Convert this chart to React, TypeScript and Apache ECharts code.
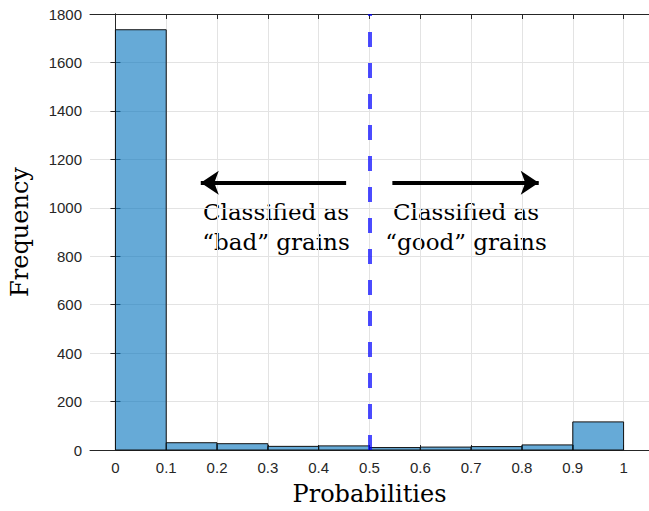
import React, { useEffect, useRef } from "react";
import * as echarts from "echarts";

const binEdges = [0, 0.1, 0.2, 0.3, 0.4, 0.5, 0.6, 0.7, 0.8, 0.9, 1.0];
const counts = [1735, 30, 26, 15, 17, 10, 12, 14, 21, 116];
const xTicks = [0, 0.1, 0.2, 0.3, 0.4, 0.5, 0.6, 0.7, 0.8, 0.9, 1];
const threshold = 0.5;
const leftArrow = [[0.454, 1103], [0.168, 1103]];
const rightArrow = [[0.545, 1103], [0.833, 1103]];
const leftText = "Classified as\n“bad” grains";
const rightText = "Classified as\n“good” grains";

const axisColor = "#262626";
const gridColor = "#e3e3e3";
const serif = "DejaVu Serif";
const sans = "Liberation Sans";

export default function App() {
  const ref = useRef<HTMLDivElement>(null);
  useEffect(() => {
    if (!ref.current) return;
    const chart = echarts.init(ref.current, undefined, { renderer: "svg" });
    const data = counts.map((c, i) => [binEdges[i], binEdges[i + 1], c]);
    const fmt = (v: number) => (v === 0 ? "0" : v === 1 ? "1" : v.toFixed(1));
    chart.setOption({
      animation: false,
      backgroundColor: "#fff",
      grid: { left: 90, right: -2, top: 14, bottom: 58 },
      xAxis: [
        {
          type: "value",
          min: -0.05,
          max: 1.05,
          name: "Probabilities",
          nameLocation: "middle",
          nameGap: 32,
          nameTextStyle: { fontFamily: serif, fontSize: 24, color: "#000" },
          axisLine: { show: true, onZero: false, lineStyle: { color: axisColor, width: 1 } },
          axisTick: { show: true, inside: true, length: 5, customValues: xTicks, lineStyle: { color: axisColor } },
          axisLabel: { customValues: xTicks, formatter: fmt, fontFamily: sans, fontSize: 15, color: axisColor, margin: 10 },
          splitLine: { show: true, lineStyle: { color: gridColor, width: 1 } },
        },
        {
          type: "value",
          position: "top",
          min: -0.05,
          max: 1.05,
          axisLine: { show: true, onZero: false, lineStyle: { color: axisColor, width: 1 } },
          axisTick: { show: true, inside: true, length: 5, customValues: xTicks, lineStyle: { color: axisColor } },
          axisLabel: { show: false },
          splitLine: { show: false },
        },
      ],
      yAxis: [
        {
          type: "value",
          min: 0,
          max: 1800,
          interval: 200,
          name: "Frequency",
          nameLocation: "middle",
          nameGap: 58,
          nameTextStyle: { fontFamily: serif, fontSize: 24, color: "#000" },
          axisLine: { show: true, lineStyle: { color: axisColor, width: 1 } },
          axisTick: { show: true, inside: true, length: 5, lineStyle: { color: axisColor } },
          axisLabel: { formatter: (v: number) => String(v), fontFamily: sans, fontSize: 15, color: axisColor, margin: 8 },
          splitLine: { show: true, lineStyle: { color: gridColor, width: 1 } },
        },
        {
          type: "value",
          position: "right",
          min: 0,
          max: 1800,
          interval: 200,
          axisLine: { show: true, lineStyle: { color: axisColor, width: 1 } },
          axisTick: { show: true, inside: true, length: 5, lineStyle: { color: axisColor } },
          axisLabel: { show: false },
          splitLine: { show: false },
        },
      ],
      series: [
        {
          type: "custom",
          xAxisIndex: 0,
          yAxisIndex: 0,
          data,
          encode: { x: [0, 1], y: 2 },
          renderItem: (params: any, api: any) => {
            const p0 = api.coord([api.value(0), api.value(2)]);
            const p1 = api.coord([api.value(1), 0]);
            return {
              type: "rect",
              shape: { x: p0[0], y: p0[1], width: p1[0] - p0[0], height: p1[1] - p0[1] },
              style: { fill: "rgba(0,114,189,0.6)", stroke: "#111", lineWidth: 1 },
            };
          },
          markLine: {
            silent: true,
            symbol: "none",
            label: { show: false },
            z: 5,
            lineStyle: { color: "rgba(0,0,255,0.7)", width: 4, type: [15, 16] },
            data: [{ xAxis: threshold }],
          },
        },
        {
          type: "line",
          xAxisIndex: 0,
          yAxisIndex: 0,
          data: [],
          markLine: {
            silent: true,
            symbol: ["none", "arrow"],
            symbolSize: 18,
            label: { show: false },
            lineStyle: { color: "#000", width: 4, type: "solid" },
            data: [
              [{ coord: leftArrow[0] }, { coord: leftArrow[1] }],
              [{ coord: rightArrow[0] }, { coord: rightArrow[1] }],
            ],
          },
        },
      ],
      graphic: [
        {
          type: "text",
          x: 276,
          y: 197,
          style: { text: leftText, fontFamily: serif, fontSize: 23, lineHeight: 30, fill: "#000", align: "center", verticalAlign: "top" },
        },
        {
          type: "text",
          x: 466,
          y: 197,
          style: { text: rightText, fontFamily: serif, fontSize: 23, lineHeight: 30, fill: "#000", align: "center", verticalAlign: "top" },
        },
      ],
    });
    return () => chart.dispose();
  }, []);
  return <div ref={ref} style={{ position: "fixed", left: 0, top: 0, width: 649, height: 511 }} />;
}
